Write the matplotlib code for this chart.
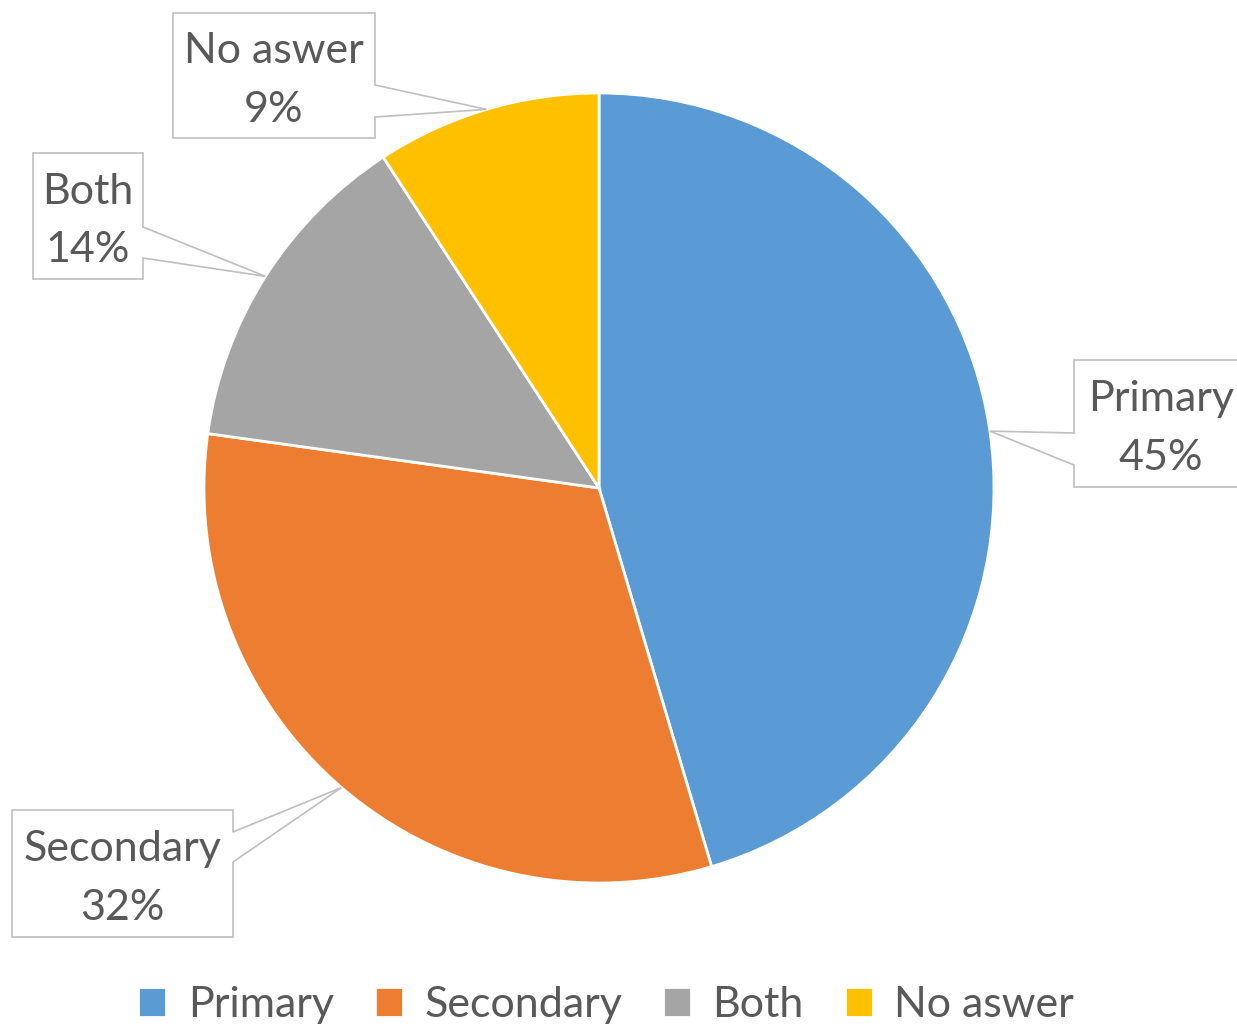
import numpy as np
import matplotlib
matplotlib.use('Agg')
import matplotlib.pyplot as plt
from matplotlib.patches import Polygon

plt.rcParams['font.family'] = ['Lato', 'DejaVu Sans']

labels = ["Primary", "Secondary", "Both", "No aswer"]
shares = [45.4, 31.8, 13.6, 9.2]
shown = ["45%", "32%", "14%", "9%"]
colors = ["#5B9BD5", "#ED7D31", "#A5A5A5", "#FFC000"]

W, H = 1237, 1032
cx, cy, rad = 599, H - 488, 395
text_col = "#595959"
edge_col = "#BFBFBF"

# callout boxes in pixel coords (top-down): x0, x1, y0, y1, side, wedge base y's
boxes = {
    "Primary":   (1074, 1248, 360, 487, "left", 433, 465),
    "Secondary": (12, 233, 810, 937, "right", 832, 862),
    "Both":      (33, 143, 153, 279, "right", 227, 258),
    "No aswer":  (173, 375, 13, 138, "right", 85, 117),
}

fig = plt.figure(figsize=(W / 100, H / 100), dpi=100)
ax = fig.add_axes([0, 0, 1, 1])

wedges, _ = ax.pie(shares, colors=colors, startangle=90, counterclock=False,
                   center=(cx, cy), radius=rad, frame=True,
                   wedgeprops=dict(edgecolor='white', linewidth=2))
ax.set_xlim(0, W)
ax.set_ylim(0, H)
ax.set_aspect('equal')
ax.axis('off')

for w, lab, pct in zip(wedges, labels, shown):
    mid = np.deg2rad((w.theta1 + w.theta2) / 2)
    tip = (cx + rad * np.cos(mid), cy + rad * np.sin(mid))
    x0, x1, y0, y1, side, wa, wb = boxes[lab]
    y0, y1, wa, wb = H - y0, H - y1, H - wa, H - wb
    if side == "right":
        pts = [(x0, y0), (x1, y0), (x1, wa), tip, (x1, wb), (x1, y1), (x0, y1)]
    else:
        pts = [(x0, y0), (x1, y0), (x1, y1), (x0, y1), (x0, wb), tip, (x0, wa)]
    ax.add_patch(Polygon(pts, closed=True, facecolor='white', edgecolor=edge_col,
                         linewidth=1.2, zorder=5))
    ax.text((x0 + x1) / 2, (y0 + y1) / 2 - 5, lab + "\n" + pct, ha='center', va='center',
            fontsize=31, color=text_col, linespacing=1.65, zorder=6)

leg = ax.legend(wedges, labels, loc='lower center', bbox_to_anchor=(0.49, -0.03),
                ncol=4, frameon=False, fontsize=31, handlelength=0.65, handleheight=0.7,
                handletextpad=0.5, columnspacing=0.95, labelcolor=text_col)

fig.savefig("out.png", dpi=100)
